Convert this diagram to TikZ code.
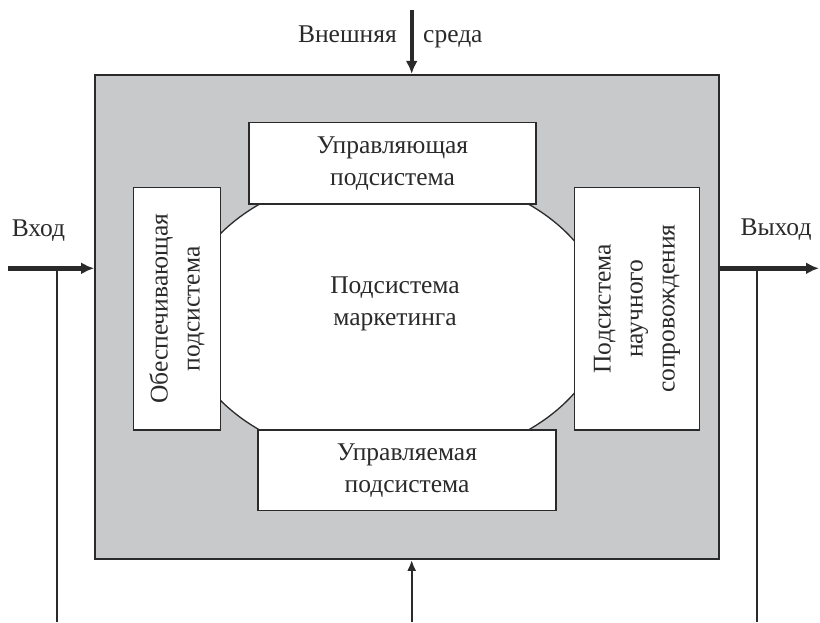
\documentclass[tikz,border=0pt]{standalone}
\usepackage{fontspec}
\setmainfont{Liberation Serif}
\usetikzlibrary{arrows.meta,shapes.geometric}
\definecolor{grayf}{HTML}{C8C9CB}
\definecolor{linec}{HTML}{2A2A2A}
\begin{document}
\begin{tikzpicture}[x=1pt,y=-1pt,
  txt/.style={font=\fontsize{25.5}{32}\selectfont, text=linec, inner sep=0pt, align=center},
  box/.style={txt, draw=linec, fill=white, line width=1.4pt},
  thickarrow/.style={draw=linec, line width=4.4pt, -{Latex[length=13pt,width=12pt]}},
  thinarrow/.style={draw=linec, line width=2pt, -{Latex[length=11pt,width=9pt]}},
  thinline/.style={draw=linec, line width=1.7pt}]
\useasboundingbox (0,0) rectangle (820,622);
% system frame
\node[draw=linec, fill=grayf, line width=1.7pt, inner sep=0pt,
      minimum width=624pt, minimum height=484.3pt] (sys) at (407,316.9) {};
% marketing ellipse
\node[ellipse, draw=linec, fill=white, line width=1.3pt, inner sep=0pt,
      minimum width=422pt, minimum height=293pt] (mk) at (394,317) {};
\node[txt] (mkt) at (395,304) {Подсистема\\маркетинга};
% subsystems
\node[box, minimum width=287pt, minimum height=81.3pt] (ctrl) at (392.5,163.3) {Управляющая\\подсистема};
\node[box, minimum width=298pt, minimum height=80.7pt] (mgd) at (407,470.3) {Управляемая\\подсистема};
\node[box, rotate=90, minimum width=242.5pt, minimum height=87.2pt] (sup) at (176.9,308.8) {Обеспечивающая\\подсистема};
\node[box, rotate=90, minimum width=242.7pt, minimum height=124.6pt] (sci) at (637,308.7) {Подсистема\\научного\\сопровождения};
% input / output
\coordinate (inS) at (8,268.3);
\coordinate (outE) at (819,268.3);
\draw[thickarrow] (inS) -- (inS -| sys.west);
\draw[thickarrow] (outE -| sys.east) -- (outE);
\coordinate (fbL) at (57.3,622);
\coordinate (fbR) at (757.3,622);
\draw[thinline] (fbL) -- (fbL |- inS);
\draw[thinline] (fbR) -- (fbR |- outE);
% environment
\coordinate (envS) at (411.7,10);
\draw[thickarrow] (envS) -- (envS |- sys.north);
\coordinate (botS) at (411.7,622);
\draw[thinarrow] (botS) -- (botS |- sys.south);
% labels
\node[txt, anchor=base] (inL) at (38.5,236) {Вход};
\node[txt, anchor=base] (outL) at (776,235) {Выход};
\node[txt, anchor=base east] (envL) at (397,42) {Внешняя};
\node[txt, anchor=base west] (envR) at (423,42) {среда};
\end{tikzpicture}
\end{document}
